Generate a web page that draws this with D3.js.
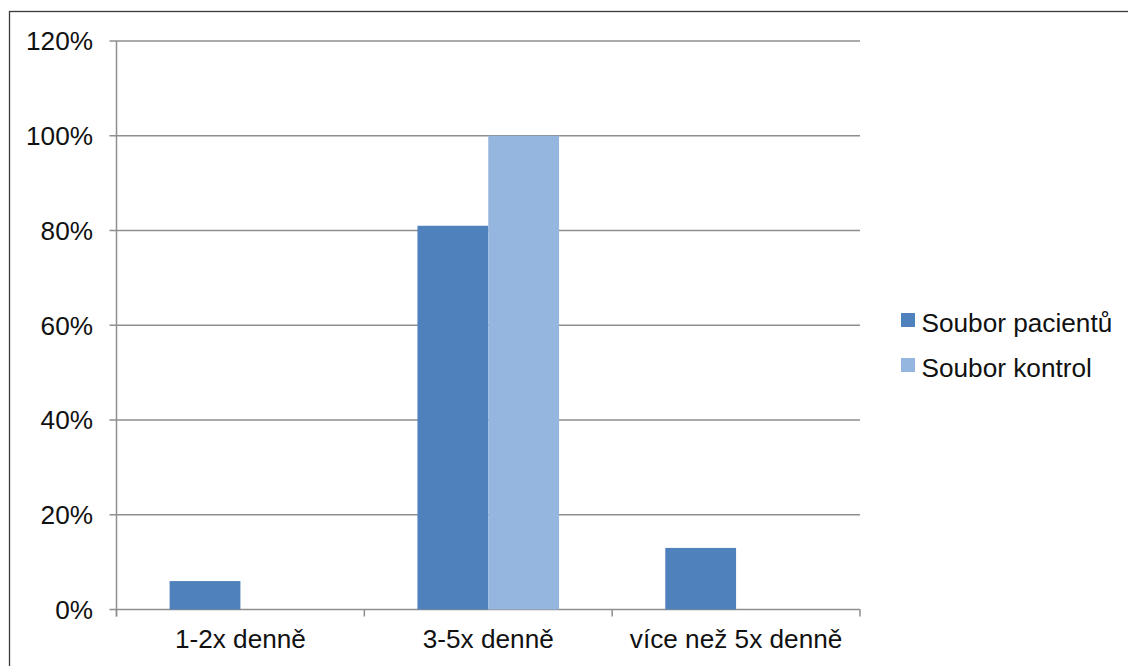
<!DOCTYPE html>
<html>
<head>
<meta charset="utf-8">
<script src="https://cdn.jsdelivr.net/npm/d3@7"></script>
<style>
  html, body { margin: 0; padding: 0; background: #fff; }
  svg { display: block; font-family: "Liberation Sans", Arial, sans-serif; }
</style>
</head>
<body>
<svg id="chart" width="1128" height="666"></svg>
<script>
// Frequency categories and the share of each group (in %)
const categories = ["1-2x denně", "3-5x denně", "více než 5x denně"];
const seriesNames = ["Soubor pacientů", "Soubor kontrol"];
const pacienti = [6, 81, 13];
const kontroly = [0, 100, 0];
const yTicks = [0, 20, 40, 60, 80, 100, 120];
const colors = ["#4F81BD", "#95B7DF"];

const svg = d3.select("#chart");
const fontSize = 26.2;

// Outer chart frame
svg.append("rect")
  .attr("x", 9.5).attr("y", 11.5)
  .attr("width", 1140).attr("height", 700)
  .attr("fill", "none").attr("stroke", "#3a3a3a").attr("stroke-width", 1.3);

const plot = { left: 116.5, right: 860, top: 41, bottom: 609.5 };

const x = d3.scaleBand().domain(categories).range([plot.left, plot.right]);
const xInner = d3.scaleBand().domain(seriesNames)
  .range([0, x.bandwidth()]).paddingOuter(0.75).paddingInner(0);
const y = d3.scaleLinear().domain([0, 120]).range([plot.bottom, plot.top]);

const gridColor = "#8e8e8e";

// Horizontal gridlines with tick marks outside the y axis
svg.append("g").selectAll("line").data(yTicks).join("line")
  .attr("x1", plot.left - 7).attr("x2", plot.right)
  .attr("y1", d => y(d)).attr("y2", d => y(d))
  .attr("stroke", gridColor).attr("stroke-width", 1.5);

// Y axis line
svg.append("line")
  .attr("x1", plot.left).attr("x2", plot.left)
  .attr("y1", plot.top).attr("y2", plot.bottom + 7)
  .attr("stroke", gridColor).attr("stroke-width", 1.5);

// Y tick labels
svg.append("g").selectAll("text").data(yTicks).join("text")
  .attr("x", 93).attr("y", d => y(d))
  .attr("dy", "0.36em")
  .attr("text-anchor", "end")
  .attr("font-size", fontSize).attr("fill", "#111")
  .text(d => d + "%");

// Category boundary ticks on the x axis
const boundaries = categories.map(c => x(c)).concat([x(categories[categories.length - 1]) + x.bandwidth()]);
svg.append("g").selectAll("line").data(boundaries).join("line")
  .attr("x1", d => d).attr("x2", d => d)
  .attr("y1", plot.bottom).attr("y2", plot.bottom + 7)
  .attr("stroke", gridColor).attr("stroke-width", 1.5);

// Bars
const seriesData = [pacienti, kontroly];
seriesNames.forEach((name, si) => {
  svg.append("g").selectAll("rect").data(categories).join("rect")
    .attr("x", c => x(c) + xInner(name))
    .attr("width", xInner.bandwidth())
    .attr("y", (c, i) => y(seriesData[si][i]))
    .attr("height", (c, i) => y(0) - y(seriesData[si][i]))
    .attr("fill", colors[si]);
});

// Category labels
svg.append("g").selectAll("text").data(categories).join("text")
  .attr("x", c => x(c) + x.bandwidth() / 2)
  .attr("y", 648)
  .attr("text-anchor", "middle")
  .attr("font-size", fontSize).attr("fill", "#111")
  .text(c => c);

// Legend
const legend = svg.append("g").attr("transform", "translate(901,313)");
seriesNames.forEach((name, i) => {
  const g = legend.append("g").attr("transform", `translate(0,${i * 45})`);
  g.append("rect").attr("width", 14).attr("height", 14).attr("fill", colors[i]);
  g.append("text").attr("x", 20.5).attr("y", 18.5)
    .attr("font-size", fontSize).attr("fill", "#111").text(name);
});
</script>
</body>
</html>
